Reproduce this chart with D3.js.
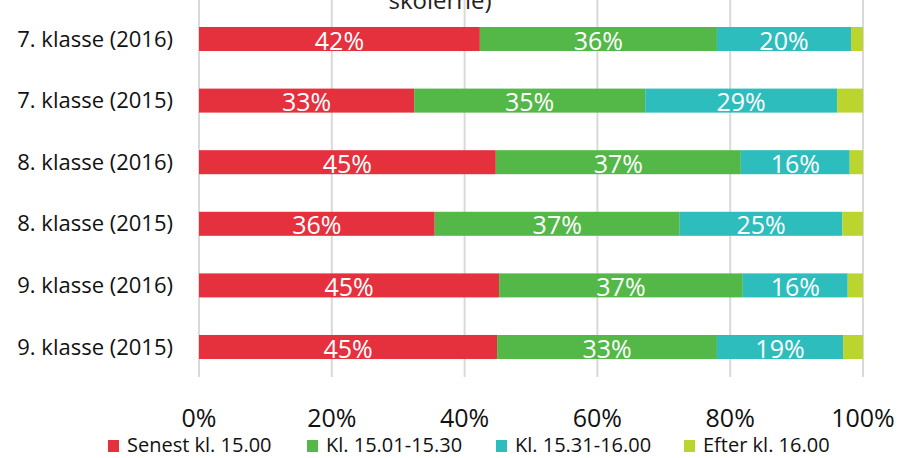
<!DOCTYPE html>
<html>
<head>
<meta charset="utf-8">
<script src="https://cdn.jsdelivr.net/npm/d3@7"></script>
<style>
  body { margin: 0; background: #fff; }
  svg { display: block; font-family: "Open Sans", "Noto Sans", sans-serif; }
</style>
</head>
<body>
<svg id="chart" width="899" height="458"></svg>
<script>
const categories = ["7. klasse (2016)", "7. klasse (2015)", "8. klasse (2016)", "8. klasse (2015)", "9. klasse (2016)", "9. klasse (2015)"];
const seriesNames = ["Senest kl. 15.00", "Kl. 15.01-15.30", "Kl. 15.31-16.00", "Efter kl. 16.00"];
const senest = [42.3, 32.4, 44.7, 35.5, 45.2, 44.9];
const kl1530 = [35.7, 34.8, 36.9, 36.9, 36.7, 33.1];
const kl1600 = [20.2, 28.9, 16.4, 24.5, 15.8, 19.0];
const efter = [1.8, 3.9, 2.0, 3.1, 2.3, 3.0];
const labels = [
    ["42%", "36%", "20%", ""],
    ["33%", "35%", "29%", ""],
    ["45%", "37%", "16%", ""],
    ["36%", "37%", "25%", ""],
    ["45%", "37%", "16%", ""],
    ["45%", "33%", "19%", ""]
];
const xTicks = [0, 20, 40, 60, 80, 100];
const colors = ["#e4313d", "#53b848", "#2dbdbd", "#bcd52e"];

const svg = d3.select("#chart");
const margin = { left: 199, right: 36 };
const width = 899;

const x = d3.scaleLinear().domain([0, 100]).range([margin.left, width - margin.right]);
const y = d3.scaleBand().domain(categories).range([8.2, 377.8]).paddingInner(0.61).paddingOuter(0.305);

// build stacked table
const table = categories.map((c, i) => ({
    cat: c, s0: senest[i], s1: kl1530[i], s2: kl1600[i], s3: efter[i], idx: i
}));
const stack = d3.stack().keys(["s0", "s1", "s2", "s3"]);
const stacked = stack(table);

// title remnant (rest of the title sits above the visible area)
svg.append("text")
    .attr("x", 440).attr("y", 9)
    .attr("text-anchor", "middle")
    .attr("font-size", 24)
    .attr("fill", "#222")
    .text("skolerne)");

// gridlines
svg.append("g")
    .selectAll("line")
    .data(xTicks)
    .enter().append("line")
    .attr("x1", d => x(d)).attr("x2", d => x(d))
    .attr("y1", 0).attr("y2", 377)
    .attr("stroke", "#d9d9d9")
    .attr("stroke-width", 2);

// bars
const groups = svg.append("g")
    .selectAll("g")
    .data(stacked)
    .enter().append("g")
    .attr("fill", (d, i) => colors[i]);

groups.selectAll("rect")
    .data(d => d)
    .enter().append("rect")
    .attr("x", d => x(d[0]))
    .attr("y", d => y(d.data.cat))
    .attr("width", d => x(d[1]) - x(d[0]))
    .attr("height", y.bandwidth());

// value labels
stacked.forEach((layer, k) => {
    svg.append("g")
        .selectAll("text")
        .data(layer)
        .enter().append("text")
        .attr("x", d => (x(d[0]) + x(d[1])) / 2)
        .attr("y", d => y(d.data.cat) + y.bandwidth() / 2 + 10.5)
        .attr("text-anchor", "middle")
        .attr("font-size", 25)
        .attr("fill", "#fff")
        .text(d => labels[d.data.idx][k]);
});

// category axis labels
svg.append("g")
    .selectAll("text")
    .data(categories)
    .enter().append("text")
    .attr("x", 173)
    .attr("y", d => y(d) + y.bandwidth() / 2 + 7.5)
    .attr("text-anchor", "end")
    .attr("font-size", 22)
    .attr("fill", "#111")
    .text(d => d);

// x axis tick labels
svg.append("g")
    .selectAll("text")
    .data(xTicks)
    .enter().append("text")
    .attr("x", d => x(d))
    .attr("y", 427)
    .attr("text-anchor", "middle")
    .attr("font-size", 25)
    .attr("fill", "#111")
    .text(d => d + "%");

// legend
const legendX = [108, 307, 496, 684];
const legend = svg.append("g")
    .selectAll("g")
    .data(seriesNames)
    .enter().append("g")
    .attr("transform", (d, i) => `translate(${legendX[i]},440)`);
legend.append("rect")
    .attr("width", 11).attr("height", 12)
    .attr("fill", (d, i) => colors[i]);
legend.append("text")
    .attr("x", 19).attr("y", 12)
    .attr("font-size", 20)
    .attr("fill", "#111")
    .text(d => d);
</script>
</body>
</html>
